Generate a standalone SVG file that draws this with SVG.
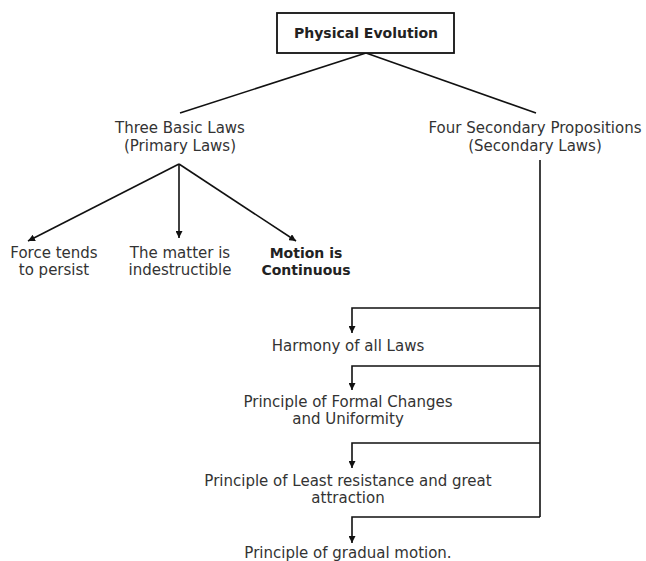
<svg xmlns="http://www.w3.org/2000/svg" width="646" height="561" viewBox="0 0 646 561">
<defs>
<marker id="ah" viewBox="0 0 10 10" refX="10" refY="5" markerWidth="7" markerHeight="7" markerUnits="userSpaceOnUse" orient="auto">
<path d="M0,0 L10,5 L0,10 z" fill="#111"/>
</marker>
</defs>
<style>
text{font-family:"DejaVu Sans","Liberation Sans",Arial,sans-serif;font-size:15px;fill:#333;text-anchor:middle}
.b{font-weight:bold;fill:#222;font-size:14px}
.ln{stroke:#111;stroke-width:1.6;fill:none}
.ar{stroke:#111;stroke-width:1.6;fill:none;marker-end:url(#ah)}
</style>
<rect width="646" height="561" fill="#fff"/>
<g id="connectors">
<path class="ln" d="M366,53 L180,113"/>
<path class="ln" d="M366,53 L536,113"/>
<path class="ar" d="M179,164 L28,241"/>
<path class="ar" d="M179,164 L179,238"/>
<path class="ar" d="M179,164 L296,241"/>
<path class="ln" d="M540,160 L540,517"/>
<path class="ar" d="M540,308 L352,308 L352,333"/>
<path class="ar" d="M540,366 L352,366 L352,390"/>
<path class="ar" d="M540,443 L352,443 L352,468"/>
<path class="ar" d="M540,517 L352,517 L352,543"/>
</g>
<g id="physical-evolution">
<rect x="277" y="13" width="177" height="40" fill="#fff" stroke="#111" stroke-width="1.8"/>
<text class="b" x="366" y="38">Physical Evolution</text>
</g>
<g id="three-basic-laws">
<text x="180" y="133">Three Basic Laws</text>
<text x="180" y="151">(Primary Laws)</text>
</g>
<g id="four-secondary">
<text x="535" y="133">Four Secondary Propositions</text>
<text x="535" y="151">(Secondary Laws)</text>
</g>
<g id="force-tends">
<text x="54" y="258">Force tends</text>
<text x="54" y="275">to persist</text>
</g>
<g id="matter">
<text x="180" y="258">The matter is</text>
<text x="180" y="275">indestructible</text>
</g>
<g id="motion">
<text class="b" x="306" y="258">Motion is</text>
<text class="b" x="306" y="275">Continuous</text>
</g>
<g id="harmony">
<text x="348" y="351">Harmony of all Laws</text>
</g>
<g id="formal-changes">
<text x="348" y="407">Principle of Formal Changes</text>
<text x="348" y="424">and Uniformity</text>
</g>
<g id="least-resistance">
<text x="348" y="486">Principle of Least resistance and great</text>
<text x="348" y="503">attraction</text>
</g>
<g id="gradual-motion">
<text x="348" y="558">Principle of gradual motion.</text>
</g>
</svg>
